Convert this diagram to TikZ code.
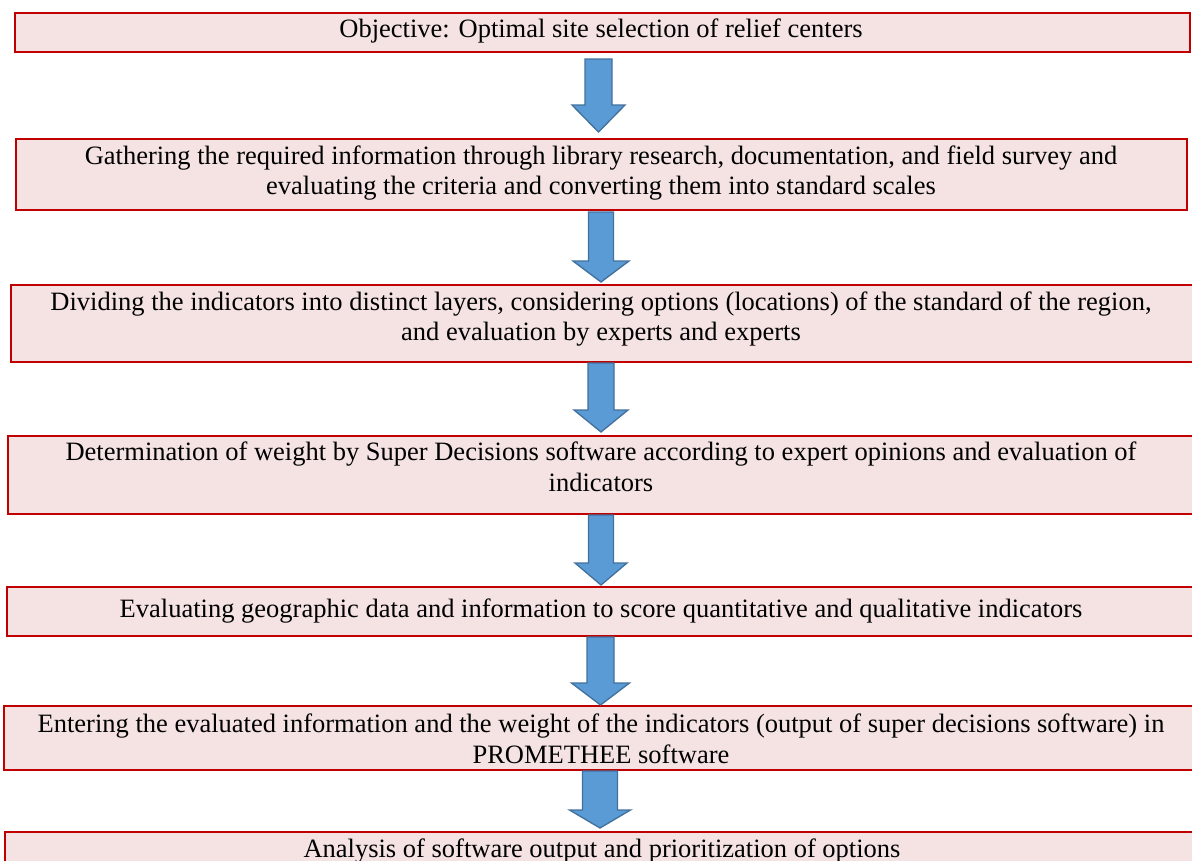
\documentclass[tikz,border=0pt]{standalone}
\usepackage{fontspec}
\setmainfont{Liberation Serif}
\definecolor{boxfill}{HTML}{F5E3E3}
\definecolor{boxline}{HTML}{C00000}
\definecolor{arrfill}{HTML}{5B9BD5}
\definecolor{arrline}{HTML}{41719C}
\newcommand\pxu{0.4528pt}
\newcommand\dnarrow[7]{%
  \draw[blockarrow] (#2-#6,#3) -- (#2+#6,#3) -- (#2+#6,#4) -- (#2+#7,#4)
    -- (#2,#5) coordinate (#1) -- (#2-#7,#4) -- (#2-#6,#4) -- cycle;}
\newcommand\flowbox[5]{%
  \node[flowrect, minimum width={(#4-#2)*\pxu}, minimum height={(#5-#3)*\pxu}]
    (#1) at ({(#2+#4)/2},{(#3+#5)/2}) {};}
\begin{document}
\begin{tikzpicture}[x=0.4528pt,y=-0.4528pt,
  flowrect/.style={rectangle, draw=boxline, fill=boxfill, line width=0.8pt, inner sep=0pt},
  flowtext/.style={align=center, inner sep=0pt, font=\fontsize{12pt}{13.8pt}\selectfont},
  blockarrow/.style={draw=arrline, fill=arrfill, line width=0.6pt, line join=miter}]
\clip (0,0) rectangle (1192,860);
\fill[white] (0,0) rectangle (1192,860);
% boxes
\flowbox{b1}{15}{13}{1190}{52}
\flowbox{b2}{16}{139}{1187}{210}
\flowbox{b3}{11}{285}{1205}{362}
\flowbox{b4}{8}{436}{1205}{514}
\flowbox{b5}{7}{587}{1205}{636}
\flowbox{b6}{4}{706}{1205}{770}
\flowbox{b7}{5}{832}{1205}{890}
% texts
\node[flowtext] (t1) at (601,31) {Objective: Optimal site selection of relief centers};
\node[flowtext] (t2) at (601,173) {Gathering the required information through library research, documentation, and field survey and\\ evaluating the criteria and converting them into standard scales};
\node[flowtext] (t3) at (601,319) {Dividing the indicators into distinct layers, considering options (locations) of the standard of the region,\\ and evaluation by experts and experts};
\node[flowtext] (t4) at (601,467) {Determination of weight by Super Decisions software according to expert opinions and evaluation of\\ indicators};
\node[flowtext] (t5) at (601,611) {Evaluating geographic data and information to score quantitative and qualitative indicators};
\node[flowtext] (t6) at (601,739) {Entering the evaluated information and the weight of the indicators (output of super decisions software) in\\ PROMETHEE software};
\node[flowtext] (t7) at (602,851) {Analysis of software output and prioritization of options};
% block arrows
\dnarrow{a1}{598.5}{59}{105}{132}{13.5}{26.5}
\dnarrow{a2}{601}{212}{261}{282}{12.5}{28}
\dnarrow{a3}{601}{363}{410}{432}{13}{27}
\dnarrow{a4}{601}{515}{563}{585}{12.5}{26}
\dnarrow{a5}{600.5}{637}{683}{705}{13.5}{29}
\dnarrow{a6}{600}{771}{810}{828}{17.5}{30.5}
\end{tikzpicture}
\end{document}
